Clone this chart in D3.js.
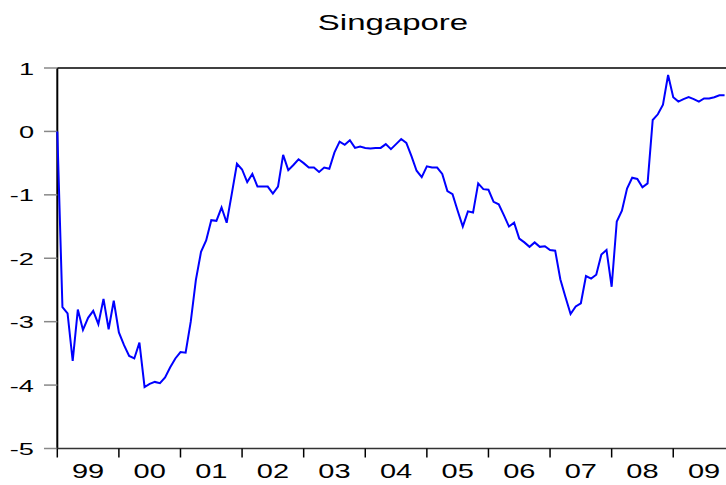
<!DOCTYPE html>
<html><head><meta charset="utf-8">
<script src="https://cdn.jsdelivr.net/npm/d3@7"></script>
<style>body{margin:0;background:#fff;}svg{display:block;}</style>
</head><body>
<script>
const title = "Singapore";
const startYear = 1999;
const yearLabels = ["99","00","01","02","03","04","05","06","07","08","09"];
const yTicks = [1,0,-1,-2,-3,-4,-5];
const values = [
 0.00,-2.77,-2.87,-3.62,-2.81,-3.13,-2.94,-2.83,-3.04,-2.64,-3.12,-2.67,
 -3.17,-3.37,-3.54,-3.58,-3.33,-4.03,-3.98,-3.95,-3.97,-3.88,-3.72,-3.58,
 -3.48,-3.49,-3.00,-2.34,-1.90,-1.72,-1.40,-1.41,-1.20,-1.44,-0.98,-0.51,
 -0.60,-0.80,-0.67,-0.87,-0.87,-0.87,-0.98,-0.87,-0.37,-0.61,-0.53,-0.44,
 -0.50,-0.57,-0.57,-0.64,-0.57,-0.59,-0.33,-0.16,-0.21,-0.14,-0.26,-0.24,
 -0.26,-0.27,-0.26,-0.26,-0.20,-0.28,-0.20,-0.12,-0.18,-0.39,-0.62,-0.72,
 -0.55,-0.57,-0.57,-0.67,-0.94,-0.99,-1.25,-1.50,-1.26,-1.28,-0.82,-0.91,
 -0.92,-1.11,-1.15,-1.32,-1.50,-1.44,-1.69,-1.75,-1.82,-1.75,-1.82,-1.81,
 -1.87,-1.88,-2.33,-2.61,-2.88,-2.76,-2.71,-2.28,-2.32,-2.26,-1.94,-1.87,
 -2.45,-1.42,-1.25,-0.90,-0.73,-0.75,-0.88,-0.82,0.18,0.27,0.42,0.89,
 0.54,0.47,0.51,0.54,0.51,0.47,0.52,0.52,0.54,0.57,0.57
];

const W = 726, H = 485;
const svg = d3.select("body").append("svg").attr("width", W).attr("height", H);

const x = d3.scaleLinear().domain([0, 131]).range([57.3, 729.7]);
const y = d3.scaleLinear().domain([-5, 1]).range([448.5, 68]);

const font = "'Liberation Sans', Arial, Helvetica, sans-serif";

// frame top
svg.append("line").attr("x1", x(0)).attr("x2", W).attr("y1", y(1)).attr("y2", y(1))
  .attr("stroke", "#000").attr("stroke-width", 1.5);

// y axis
const yAxis = svg.append("g");
yAxis.append("line").attr("x1", x(0)).attr("x2", x(0)).attr("y1", y(1)).attr("y2", y(-5))
  .attr("stroke", "#000").attr("stroke-width", 2);
yTicks.forEach(t => {
  yAxis.append("line").attr("x1", 44).attr("x2", x(0)).attr("y1", y(t)).attr("y2", y(t))
    .attr("stroke", "#888").attr("stroke-width", 1.5);
  yAxis.append("text").attr("transform", `translate(34,${y(t)+6.5}) scale(1.6,1)`)
    .attr("text-anchor", "end").attr("font-family", font).attr("font-size", 17)
    .attr("fill", "#000").text(String(t));
});

// x axis
const xAxis = svg.append("g");
xAxis.append("line").attr("x1", x(0)).attr("x2", W).attr("y1", y(-5)).attr("y2", y(-5))
  .attr("stroke", "#333").attr("stroke-width", 1.5);
yearLabels.forEach((lab, k) => {
  const m = k * 12;
  xAxis.append("line").attr("x1", x(m)).attr("x2", x(m)).attr("y1", y(-5)).attr("y2", y(-5) + 9)
    .attr("stroke", "#000").attr("stroke-width", 1.5);
  xAxis.append("text").attr("transform", `translate(${x(m + 6)},478) scale(1.45,1)`)
    .attr("text-anchor", "middle").attr("font-family", font).attr("font-size", 20)
    .attr("fill", "#000").text(lab);
});
if (x(132) <= W) {
  xAxis.append("line").attr("x1", x(132)).attr("x2", x(132)).attr("y1", y(-5)).attr("y2", y(-5)+9).attr("stroke","#000");
}

// line
const line = d3.line().x((d, i) => x(i)).y(d => y(d));
svg.append("path").datum(values).attr("d", line)
  .attr("fill", "none").attr("stroke", "#0000ff").attr("stroke-width", 2)
  .attr("stroke-linejoin", "miter");

// title
svg.append("text").attr("transform", `translate(393,30) scale(1.5,1)`)
  .attr("text-anchor", "middle").attr("font-family", font).attr("font-size", 22)
  .attr("fill", "#000").text(title);
</script>
</body></html>
